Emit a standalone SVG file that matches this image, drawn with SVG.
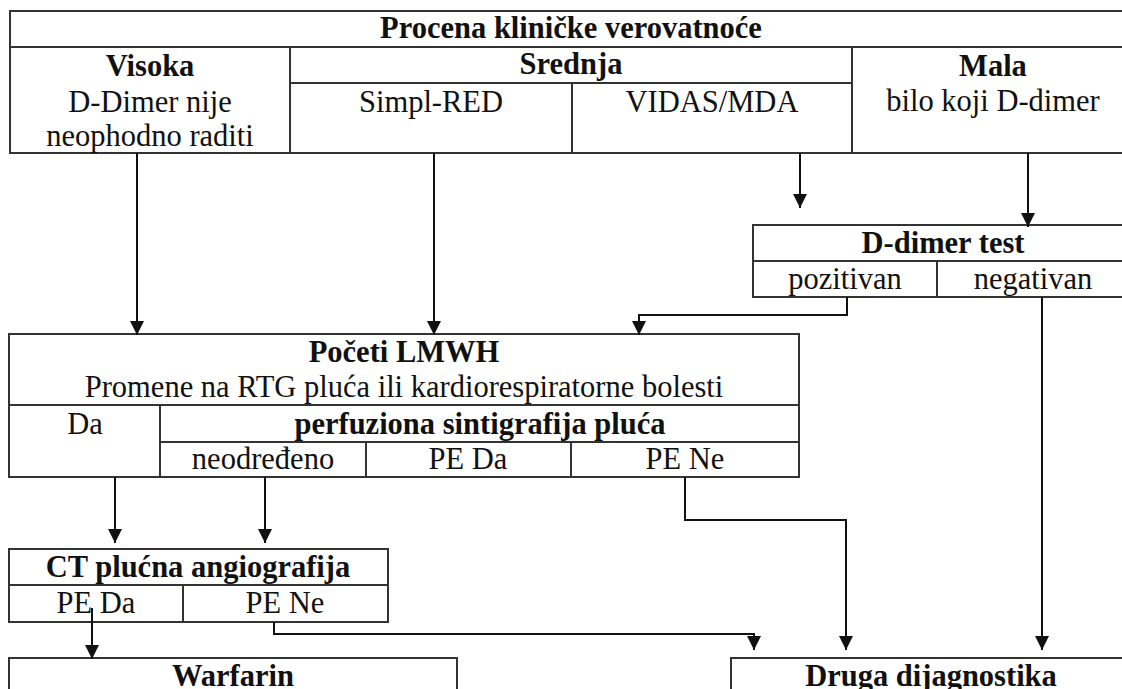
<svg xmlns="http://www.w3.org/2000/svg" width="1122" height="689" viewBox="0 0 1122 689">
<defs>
<marker id="ah" markerUnits="userSpaceOnUse" markerWidth="14" markerHeight="14" refX="14" refY="7" orient="auto">
<path d="M0,0 L14,7 L0,14 Z" fill="#111"/>
</marker>
<style>
.box{fill:#fff;stroke:#333;stroke-width:2}
.ln{stroke:#333;stroke-width:2;fill:none}
.t{font-family:"Liberation Serif","Times New Roman",serif;font-size:30.5px;fill:#111;text-anchor:middle}
.b{font-weight:bold}
.c{stroke:#111;stroke-width:2;fill:none;marker-end:url(#ah)}
</style>
</defs>
<rect width="1122" height="689" fill="#fff"/>

<g id="procena">
<rect class="box" x="10" y="11" width="1124" height="142"/>
<path class="ln" d="M10,47 H1134 M290,47 V153 M852,47 V153 M290,83 H852 M572,83 V153"/>
<text class="t b" x="571" y="38">Procena kliničke verovatnoće</text>
<text class="t b" x="150" y="76">Visoka</text>
<text class="t" x="150" y="112">D-Dimer nije</text>
<text class="t" x="150" y="146">neophodno raditi</text>
<text class="t b" x="571" y="74">Srednja</text>
<text class="t" x="431" y="112">Simpl-RED</text>
<text class="t" x="712" y="112">VIDAS/MDA</text>
<text class="t b" x="993" y="76">Mala</text>
<text class="t" x="993" y="111">bilo koji D-dimer</text>
</g>

<g id="ddimer">
<rect class="box" x="753" y="225" width="380" height="72"/>
<path class="ln" d="M753,261 H1133 M937,261 V297"/>
<text class="t b" x="943" y="253">D-dimer test</text>
<text class="t" x="845" y="289">pozitivan</text>
<text class="t" x="1033" y="289">negativan</text>
</g>

<g id="poceti">
<rect class="box" x="9" y="334" width="790" height="143"/>
<path class="ln" d="M9,405 H799 M160,405 V477 M160,442 H799 M366,442 V477 M571,442 V477"/>
<text class="t b" x="404" y="362">Početi LMWH</text>
<text class="t" x="404" y="397">Promene na RTG pluća ili kardiorespiratorne bolesti</text>
<text class="t" x="85" y="434">Da</text>
<text class="t b" x="480" y="434">perfuziona sintigrafija pluća</text>
<text class="t" x="263" y="469">neodređeno</text>
<text class="t" x="468" y="469">PE Da</text>
<text class="t" x="685" y="469">PE Ne</text>
</g>

<g id="ct">
<rect class="box" x="9" y="549" width="379" height="73"/>
<path class="ln" d="M9,585 H388 M183,585 V622"/>
<text class="t b" x="198" y="577">CT plućna angiografija</text>
<text class="t" x="96" y="613">PE Da</text>
<text class="t" x="285" y="613">PE Ne</text>
</g>

<g id="warfarin">
<rect class="box" x="9" y="658" width="448" height="60"/>
<text class="t b" x="233" y="686">Warfarin</text>
</g>

<g id="druga">
<rect class="box" x="731" y="658" width="400" height="60"/>
<text class="t b" x="931" y="686">Druga dijagnostika</text>
</g>

<g id="connectors">
<path class="c" d="M137,153 V335"/>
<path class="c" d="M434,153 V335"/>
<path class="c" d="M800,153 V208"/>
<path class="c" d="M1028,153 V227"/>
<path class="c" d="M847,297 V315 H639 V335"/>
<path class="c" d="M1042,297 V650"/>
<path class="c" d="M115,477 V543"/>
<path class="c" d="M265,477 V543"/>
<path class="c" d="M685,477 V520 H846 V650"/>
<path class="c" d="M92,608 V659"/>
<path class="c" d="M274,622 V634 H754 V650"/>
</g>
</svg>
